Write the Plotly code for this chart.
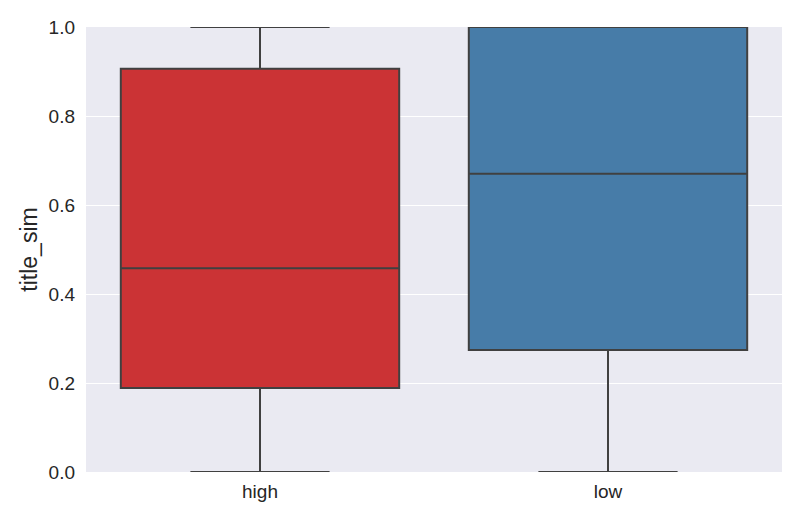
import plotly.graph_objects as go

categories = ['high', 'low']
q1 = [0.189, 0.274]
median = [0.458, 0.670]
q3 = [0.906, 1.0]
lower_fence = [0.0, 0.0]
upper_fence = [1.0, 1.0]
colors = ['#CB3335', '#477CA8']

fig = go.Figure()
for i, cat in enumerate(categories):
    fig.add_trace(go.Box(
        x=[cat],
        q1=[q1[i]],
        median=[median[i]],
        q3=[q3[i]],
        lowerfence=[lower_fence[i]],
        upperfence=[upper_fence[i]],
        fillcolor=colors[i],
        line=dict(color='#404040', width=2),
        width=0.8,
        whiskerwidth=0.5,
        boxpoints=False,
        showlegend=False,
        hoverinfo='skip',
    ))

# page body adds an 8px offset, so margins are shifted to compensate
fig.update_layout(
    width=800,
    height=508,
    margin=dict(l=78, r=26, t=19, b=44),
    plot_bgcolor='#EAEAF2',
    paper_bgcolor='white',
    font=dict(family='Liberation Sans, Arial, sans-serif', size=19, color='#262626'),
    boxmode='overlay',
)
fig.update_xaxes(
    automargin=False,
    showgrid=False,
    zeroline=False,
    showline=False,
    ticks='',
    ticklabelstandoff=6,
    range=[-0.5, 1.5],
)
fig.update_yaxes(
    automargin=False,
    title_text='title_sim',
    title_standoff=4,
    range=[0, 1],
    tickvals=[0, 0.2, 0.4, 0.6, 0.8, 1.0],
    ticktext=['0.0', '0.2', '0.4', '0.6', '0.8', '1.0'],
    gridcolor='white',
    gridwidth=1,
    zeroline=False,
    showline=False,
    ticks='',
    ticklabelstandoff=10,
)

fig.write_html("out.html")
